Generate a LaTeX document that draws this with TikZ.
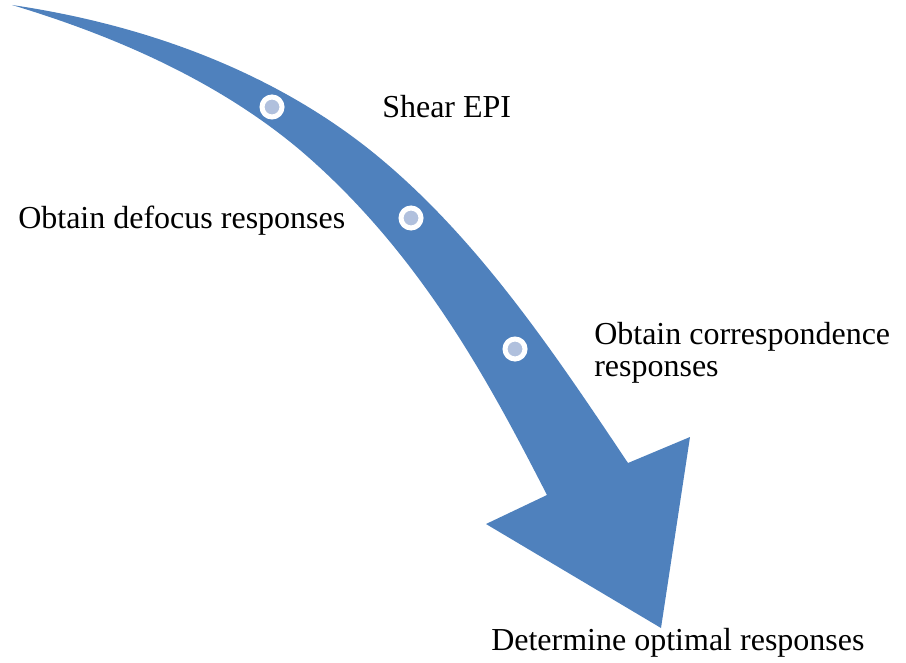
\documentclass[tikz,border=0pt]{standalone}
\usepackage{fontspec}
\setmainfont{Liberation Serif}
\usepackage{xcolor}
\definecolor{bandblue}{HTML}{4F81BD}
\definecolor{dotblue}{HTML}{B0C0DD}
\usepackage{tikz}

\begin{document}
\begin{tikzpicture}[
    x=0.75pt, y=-0.75pt,
    band/.style={fill=bandblue, draw=none},
    dot/.style={circle, fill=dotblue, draw=white, line width=3.75pt, minimum size=15pt, inner sep=0pt},
    label/.style={anchor=base west, inner sep=0pt, align=left, font=\fontsize{24}{24}\selectfont}
]
    \useasboundingbox (0,0) rectangle (906,663);

    % curved arrow
    \fill [band] (12,5) .. controls (141,24) and (268,69) .. (370,150)
        .. controls (475,234) and (553,351) .. (628,463)
        -- (690,437) -- (661,628) -- (486,524) -- (547,495)
        .. controls (492,388) and (422,254) .. (300,150)
        .. controls (218,81) and (115,36) .. (12,5) -- cycle;

    \node [dot] (d1) at (272,107) {};
    \node [dot] (d2) at (411,218) {};
    \node [dot] (d3) at (515,349) {};

    \node [label] (shear) at (382,118) {Shear EPI};
    \node [label] (defocus) at (18,228) {Obtain defocus responses};
    \node [label] (corr) at (594,376) {Obtain correspondence\\responses};
    \node [label] (optimal) at (491,650) {Determine optimal responses};
\end{tikzpicture}
\end{document}
